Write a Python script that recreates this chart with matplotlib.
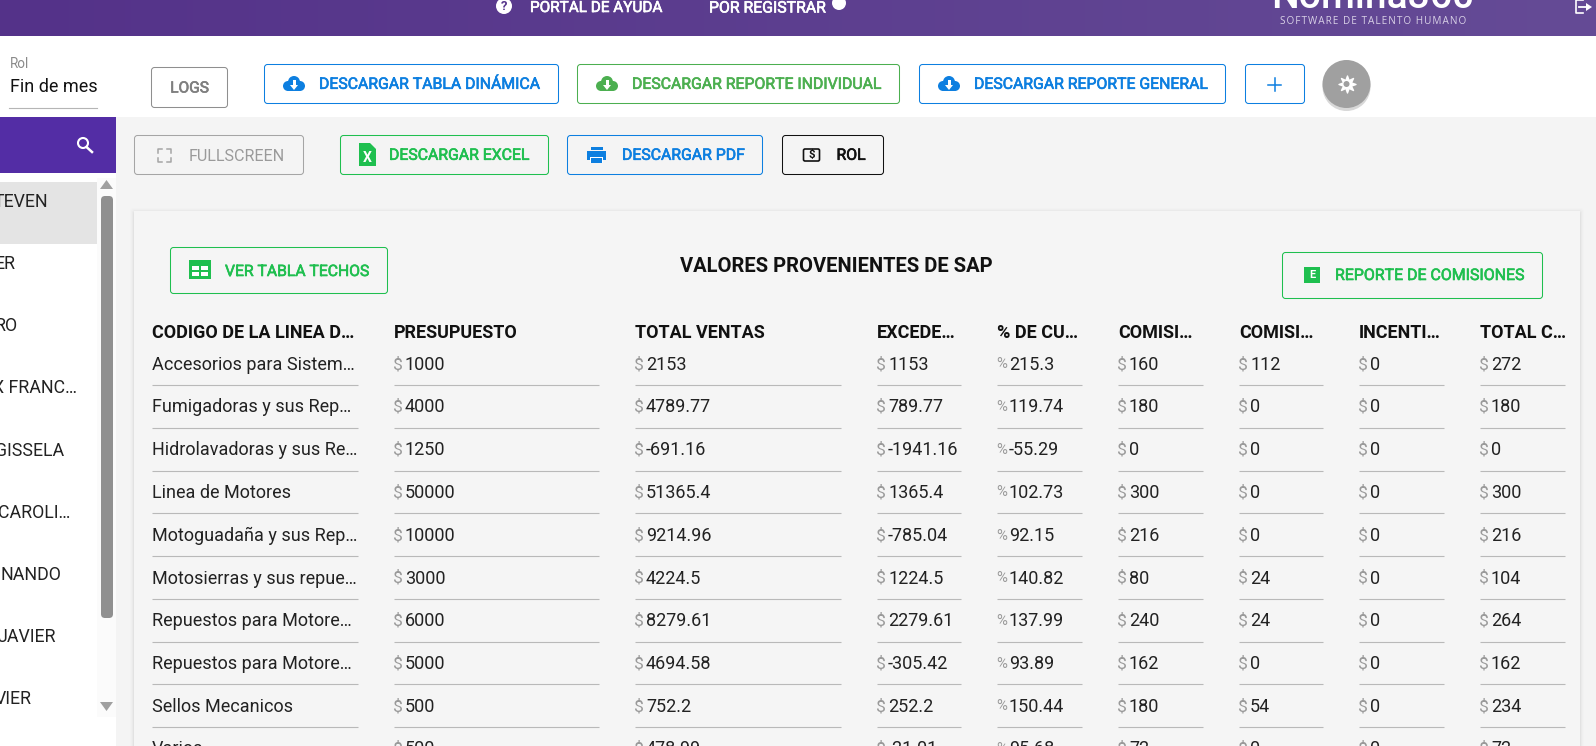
import matplotlib
matplotlib.use("Agg")
import matplotlib.pyplot as plt
import matplotlib.patheffects as pe
from matplotlib.patches import Rectangle, FancyBboxPatch, Circle, Polygon
import numpy as np

plt.rcParams['font.family'] = ['Roboto', 'DejaVu Sans']

W, H = 1596, 746
PX = 0.72  # px -> pt at dpi 100

headers = ["CODIGO DE LA LINEA D…", "PRESUPUESTO", "TOTAL VENTAS", "EXCEDE…", "% DE CU…",
           "COMISI…", "COMISI…", "INCENTI…", "TOTAL C…"]
lineas = ["Accesorios para Sistem…", "Fumigadoras y sus Rep…", "Hidrolavadoras y sus Re…",
          "Linea de Motores", "Motoguadaña y sus Rep…", "Motosierras y sus repue…",
          "Repuestos para Motore…", "Repuestos para Motore…", "Sellos Mecanicos", "Varios"]
presupuesto = ["1000", "4000", "1250", "50000", "10000", "3000", "6000", "5000", "500", "500"]
total_ventas = ["2153", "4789.77", "-691.16", "51365.4", "9214.96", "4224.5", "8279.61", "4694.58", "752.2", "478.99"]
excedente = ["1153", "789.77", "-1941.16", "1365.4", "-785.04", "1224.5", "2279.61", "-305.42", "252.2", "-21.01"]
cumplimiento = ["215.3", "119.74", "-55.29", "102.73", "92.15", "140.82", "137.99", "93.89", "150.44", "95.68"]
comision_a = ["160", "180", "0", "300", "216", "80", "240", "162", "180", "72"]
comision_b = ["112", "0", "0", "0", "0", "24", "24", "0", "54", "0"]
incentivo = ["0", "0", "0", "0", "0", "0", "0", "0", "0", "0"]
total_c = ["272", "180", "0", "300", "216", "104", "264", "162", "234", "72"]
value_cols = [presupuesto, total_ventas, excedente, cumplimiento, comision_a, comision_b, incentivo, total_c]
prefixes = ["$", "$", "$", "%", "$", "$", "$", "$"]
col_left = [152, 394, 635, 877, 997, 1118, 1239, 1359, 1480]
col_right = [358, 599, 841, 961, 1082, 1203, 1323, 1444, 1565]
row_lines = [385, 428, 470.5, 513, 556, 599, 642, 684, 727]
row_text = [363, 405.5, 448, 491, 534, 576.5, 619.5, 662, 705, 747.5]
nombres = ["TEVEN", "ER", "RO", "X FRANC…", "GISSELA", "CAROLI…", "NANDO", "JAVIER", "VIER"]
nombre_end = [48, 16, 18, 77, 64, 70, 61, 56, 32]
nombre_y = [200, 262, 324, 386, 449, 511, 573, 635, 697]

fig = plt.figure(figsize=(W / 100, H / 100), dpi=100)
ax = fig.add_axes([0, 0, 1, 1])
ax.set_xlim(0, W)
ax.set_ylim(H, 0)
ax.axis("off")

BLUE = "#0d7fe0"
GREEN = "#1fbf4f"
LGREEN = "#4caf50"
GRAY = "#8f8f8f"


def rect(x0, y0, x1, y1, color, z=1):
    ax.add_patch(Rectangle((x0, y0), x1 - x0, y1 - y0, fc=color, ec="none", zorder=z))


def button(x0, y0, x1, y1, color, fc="none", z=3):
    ax.add_patch(FancyBboxPatch((x0 + 3.5, y0 + 3.5), x1 - x0 - 7, y1 - y0 - 7,
                                boxstyle="round,pad=3,rounding_size=3",
                                fc=fc, ec=color, lw=0.75, zorder=z))


def label(x, y, s, color="#111111", size=18, weight="normal", ha="left", z=6):
    t = ax.text(x, y, s, color=color, fontsize=size * PX,
                fontweight="normal" if weight == "medium" else weight, ha=ha,
                va="center_baseline", zorder=z, clip_on=True)
    if weight == "medium":
        t.set_path_effects([pe.withStroke(linewidth=0.45, foreground=color)])
    return t


def cloud(cx, cy, color):
    ax.add_patch(Circle((cx, cy - 2), 6, fc=color, ec="none", zorder=5))
    ax.add_patch(Circle((cx - 6, cy + 2), 5, fc=color, ec="none", zorder=5))
    ax.add_patch(Circle((cx + 6, cy + 2), 5, fc=color, ec="none", zorder=5))
    rect(cx - 6, cy + 1, cx + 6, cy + 7, color, 5)
    ax.add_patch(Polygon([[cx - 4, cy + 1], [cx + 4, cy + 1], [cx, cy + 6]], fc="white", ec="none", zorder=6))
    rect(cx - 1.5, cy - 4, cx + 1.5, cy + 2, "white", 6)


# ---- backgrounds
grad = np.linspace(0, 1, 256)[None, :, None] * (np.array([101, 75, 150]) - np.array([84, 50, 137])) + np.array([84, 50, 137])
ax.imshow(grad / 255, extent=[0, W, 36, 0], aspect="auto", zorder=1)
ax.set_xlim(0, W)
ax.set_ylim(H, 0)
rect(116, 117, W, H, "#f4f4f4", 0.5)
rect(0, 117, 116, 173, "#532da5", 2)

# ---- top bar
ax.add_patch(Circle((504, 6), 8, fc="white", ec="none", zorder=5))
ax.text(504, 6.5, "?", color="#56358b", fontsize=13 * PX, fontweight="bold", ha="center", va="center", zorder=6)
label(530, 6.5, "PORTAL DE AYUDA", "white", 15.3, "medium")
label(709, 6.5, "POR REGISTRAR", "white", 15.8, "medium")
ax.add_patch(Circle((839, 3), 7, fc="white", ec="none", zorder=5))
ax.text(1373, -2, "Nomina360", color="white", fontsize=39 * PX, fontweight="medium", ha="center", va="center", zorder=6)
ax.text(1373, 20.5, "\u200a".join("SOFTWARE DE TALENTO HUMANO"), color="#d8d0e6", fontsize=10 * PX,
        family=["Open Sans", "DejaVu Sans"], ha="center", va="center_baseline", zorder=6)
ax.plot([1583, 1575.5, 1575.5, 1583], [0, 0, 13, 13], color="white", lw=1.2, zorder=6)
ax.plot([1579, 1589], [7, 7], color="white", lw=1.3, zorder=6)
ax.add_patch(Polygon([[1586, 3], [1592, 7], [1586, 11]], fc="white", ec="none", zorder=6))

# ---- select
label(10, 63, "Rol", "#8a8a8a", 13.5)
label(10, 85.5, "Fin de mes", "#111111", 18)
ax.plot([9, 97], [107.5, 107.5], color="#b5b5b5", lw=0.8, zorder=3)

# ---- first button row
button(151, 67, 228, 108, GRAY)
label(189.5, 86.5, "LOGS", "#7f7f7f", 15.5, "medium", ha="center")
button(264, 64, 559, 104, BLUE)
cloud(294, 84, BLUE)
label(319, 82.8, "DESCARGAR TABLA DINÁMICA", BLUE, 15.8, "medium")
button(577, 64, 900, 104, LGREEN)
cloud(607, 84, LGREEN)
label(632, 82.8, "DESCARGAR REPORTE INDIVIDUAL", LGREEN, 15.8, "medium")
button(919, 64, 1226, 104, BLUE)
cloud(949, 84, BLUE)
label(974, 82.8, "DESCARGAR REPORTE GENERAL", BLUE, 15.8, "medium")
button(1245, 64, 1305, 104, BLUE)
ax.plot([1268, 1281], [84.5, 84.5], color=BLUE, lw=1.1, zorder=6)
ax.plot([1274.5, 1274.5], [78, 91], color=BLUE, lw=1.1, zorder=6)
ax.add_patch(Circle((1346.5, 87), 24, fc="#d8d8d8", ec="none", zorder=3))
ax.add_patch(Circle((1346.5, 84), 24, fc="#a0a0a0", ec="none", zorder=4))
ax.scatter([1346.5], [84], marker=(8, 1, 0), s=150, c="white", zorder=5)
ax.add_patch(Circle((1346.5, 84), 3, fc="#a0a0a0", ec="none", zorder=6))

# ---- search
ax.add_patch(Circle((83, 143), 5, fc="none", ec="white", lw=1.5, zorder=5))
ax.plot([86.5, 92], [147, 152], color="white", lw=1.8, zorder=5)

# ---- second button row
button(134, 135, 304, 175, "#a5a5a5")
ax.plot([158, 158, 162], [153, 149, 149], color="#a5a5a5", lw=1.1, zorder=5)
ax.plot([167, 171, 171], [149, 149, 153], color="#a5a5a5", lw=1.1, zorder=5)
ax.plot([158, 158, 162], [158, 162, 162], color="#a5a5a5", lw=1.1, zorder=5)
ax.plot([167, 171, 171], [162, 162, 158], color="#a5a5a5", lw=1.1, zorder=5)
label(189, 155, "FULLSCREEN", "#9a9a9a", 16.1)
button(340, 135, 549, 175, GREEN)
ax.add_patch(Polygon([[359, 143], [370, 143], [376, 149], [376, 166], [359, 166]], fc=GREEN, ec="none", zorder=5))
ax.text(367.5, 158, "X", color="white", fontsize=14 * PX, fontweight="bold", ha="center", va="center", zorder=6)
label(389, 153.8, "DESCARGAR EXCEL", GREEN, 15.8, "medium")
button(567, 135, 763, 175, BLUE)
rect(590.5, 147, 603, 150, BLUE, 5)
rect(587, 151, 606, 160, BLUE, 5)
rect(590, 156.5, 603, 163, "white", 6)
rect(591, 157.5, 602, 163, BLUE, 7)
label(622, 153.8, "DESCARGAR PDF", BLUE, 15.8, "medium")
button(782, 135, 884, 175, "#111111")
ax.add_patch(FancyBboxPatch((804, 149.5), 15, 11, boxstyle="round,pad=0.5,rounding_size=1.5",
                            fc="none", ec="#111111", lw=1.2, zorder=5))
ax.text(811.5, 155, "$", color="#111111", fontsize=11.5 * PX, fontweight="bold", ha="center", va="center", zorder=6)
label(836.5, 153.8, "ROL", "#111111", 15.8, "medium")

# ---- sidebar list
rect(0, 173, 116, H, "white", 1)
rect(97, 178, 116, 717, "#fbfbfb", 1.2)
rect(0, 182, 97, 244, "#e4e4e4", 1.5)
ax.add_patch(FancyBboxPatch((102, 197), 10, 420, boxstyle="round,pad=1,rounding_size=4", fc="#909090", ec="none", zorder=3))
ax.add_patch(Polygon([[100, 189], [113, 189], [106.5, 180]], fc="#a0a0a0", ec="none", zorder=3))
ax.add_patch(Polygon([[100, 702], [113, 702], [106.5, 711]], fc="#a0a0a0", ec="none", zorder=3))
for name, xe, y in zip(nombres, nombre_end, nombre_y):
    label(xe, y, name, "#222222", 17.8, ha="right")

# ---- card (soft shadow)
for i, a in enumerate([0.006, 0.01, 0.018, 0.03]):
    ax.add_patch(FancyBboxPatch((134 - 4 + i, 211 - 3 + i), 1446 + 8 - 2 * i, 700,
                                boxstyle="round,pad=0,rounding_size=3", fc="black", alpha=a, ec="none", zorder=1.5))
rect(134, 211, 1580, H + 60, "#f5f5f5", 2)

button(170, 247, 388, 294, GREEN)
rect(189, 260, 211, 279, GREEN, 5)
rect(192, 266, 199, 270, "white", 6)
rect(201, 266, 208, 270, "white", 6)
rect(192, 272, 199, 276, "white", 6)
rect(201, 272, 208, 276, "white", 6)
label(225, 270, "VER TABLA TECHOS", GREEN, 15.7, "medium")
ax.text(836.5, 264, "VALORES PROVENIENTES DE SAP", color="#111111", fontsize=20.2 * PX, fontweight="bold",
        ha="center", va="center_baseline", zorder=6)
button(1282, 252, 1543, 299, GREEN)
rect(1304, 267, 1320, 283, GREEN, 5)
ax.text(1312, 275, "E", color="white", fontsize=11 * PX, fontweight="bold", ha="center", va="center", zorder=6)
label(1335, 274, "REPORTE DE COMISIONES", GREEN, 15.9, "medium")

# ---- table
for x, head in zip(col_left, headers):
    label(x, 331, head, "#111111", 18, "bold")
for x0, x1 in zip(col_left, col_right):
    for y in row_lines:
        ax.plot([x0, x1], [y, y], color="#b9b9b9", lw=0.8, zorder=3, solid_capstyle="butt")
for line, y in zip(lineas, row_text):
    label(col_left[0], y, line, "#222222", 18)
for x, vals, pre in zip(col_left[1:], value_cols, prefixes):
    for v, y in zip(vals, row_text):
        label(x - 1, y, pre, "#9a9a9a", 17.5 if pre == "$" else 15)
        label(x + (11 if pre == "$" else 12), y, v, "#222222", 18)

fig.savefig("out.png", dpi=100)
